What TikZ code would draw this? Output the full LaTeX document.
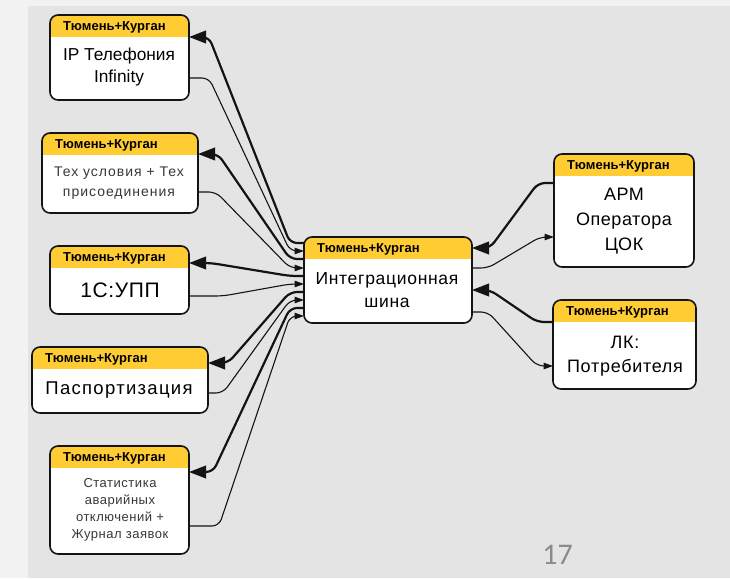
\documentclass[tikz,border=0pt]{standalone}
\usepackage{fontspec}
\setmainfont{Liberation Sans}
\newfontfamily\pagefont{Carlito}
\usetikzlibrary{arrows.meta}
\definecolor{outerbg}{RGB}{242,242,242}
\definecolor{innerbg}{RGB}{228,228,228}
\definecolor{hdryellow}{RGB}{255,204,51}
\definecolor{edgeblack}{RGB}{20,20,20}
\definecolor{pagegray}{RGB}{138,138,138}
\tikzset{
  boxbody/.style={fill=white, rounded corners=8pt, inner sep=0pt, outer sep=0pt},
  boxline/.style={draw=edgeblack, line width=1.6pt, rounded corners=8pt},
  hdrtext/.style={font=\bfseries\fontsize{13}{14}\selectfont, anchor=base west, inner sep=0pt},
  bodytext/.style={align=center, inner sep=0pt, text=black},
  graytext/.style={align=center, inner sep=0pt, text=black!78},
  conn/.style={rounded corners=7pt, draw=edgeblack},
  thk/.style={conn, line width=2.2pt, -{Triangle[length=17pt,width=12.5pt]}},
  thn/.style={conn, line width=1.1pt, -{Triangle[length=9.5pt,width=6.5pt]}},
}
\newcommand{\ybox}[5]{%
  \node[boxbody, minimum width={#4-#2}, minimum height={#5-#3}] (#1) at ({(#2+#4)/2},{(#3+#5)/2}) {};
  \begin{scope}
    \clip[rounded corners=8pt] (#1.north west) rectangle (#1.south east);
    \fill[hdryellow] (#1.north west) rectangle ([yshift=-22pt]#1.north east);
  \end{scope}
  \draw[boxline] (#1.north west) rectangle (#1.south east);
  \node[hdrtext] (#1h) at ({#2+13},{#3+15.5}) {Тюмень+Курган};
}
\begin{document}
\begin{tikzpicture}[x=1pt,y=-1pt]
\useasboundingbox (0,0) rectangle (730,578);
\fill[outerbg] (0,0) rectangle (730,578);
\fill[innerbg] (28,6) rectangle (730,578);

% boxes
\ybox{ip}{50}{15}{189}{100}
\ybox{tex}{42}{133}{198}{213}
\ybox{upp}{50}{246}{189}{314}
\ybox{pasp}{32}{347}{208}{413}
\ybox{stat}{50}{446}{189}{554}
\ybox{hub}{304}{237}{472}{323}
\ybox{arm}{554}{154}{694}{267}
\ybox{lk}{553}{300}{696}{389}

% body texts
\node[bodytext, font=\fontsize{17.3}{22}\selectfont] (ipt) at (119,67) {IP Телефония\\Infinity};
\node[graytext, font=\fontsize{14}{20}\selectfont\addfontfeature{LetterSpace=7}] (text) at (119,183) {Тех условия + Тех\\присоединения};
\node[bodytext, font=\fontsize{21}{24}\selectfont\addfontfeature{LetterSpace=3}] (uppt) at (120,290) {1С:УПП};
\node[bodytext, font=\fontsize{18.5}{22}\selectfont\addfontfeature{LetterSpace=7}] (paspt) at (119,390) {Паспортизация};
\node[graytext, font=\fontsize{13}{17}\selectfont\addfontfeature{LetterSpace=4}] (statt) at (120,510) {Статистика\\аварийных\\отключений +\\Журнал заявок};
\node[bodytext, font=\fontsize{17.5}{23}\selectfont\addfontfeature{LetterSpace=4}] (hubt) at (387,290) {Интеграционная\\шина};
\node[bodytext, font=\fontsize{18}{25}\selectfont\addfontfeature{LetterSpace=3}] (armt) at (624,221) {АРМ\\Оператора\\ЦОК};
\node[bodytext, font=\fontsize{18}{24}\selectfont\addfontfeature{LetterSpace=4}] (lkt) at (625,356) {ЛК:\\Потребителя};

% page number
\node[inner sep=0pt, text=pagegray, font=\pagefont\fontsize{30}{32}\selectfont] (pg) at (557.5,555) {17};

% left connectors
\draw[thk] ([yshift=-6pt]hub.north west) -- ++(-14,0) -- ([xshift=20pt,yshift=-22pt]ip.north east) -- ([yshift=-22pt]ip.north east);
\draw[thn] ([yshift=-63pt]ip.north east) -- ++(20,0) -- ([xshift=-14pt,yshift=-14pt]hub.north west) -- ([yshift=-14pt]hub.north west);
\draw[thk] ([yshift=-22pt]hub.north west) -- ++(-14,0) -- ([xshift=20pt,yshift=-21pt]tex.north east) -- ([yshift=-21pt]tex.north east);
\draw[thn] ([yshift=-59pt]tex.north east) -- ++(18,0) -- ([xshift=-14pt,yshift=-31pt]hub.north west) -- ([yshift=-31pt]hub.north west);
\draw[thk] ([yshift=-39pt]hub.north west) -- ++(-14,0) -- ([xshift=22pt,yshift=-17pt]upp.north east) -- ([yshift=-17pt]upp.north east);
\draw[thn] ([yshift=-50pt]upp.north east) -- ++(34,0) -- ([xshift=-14pt,yshift=-47pt]hub.north west) -- ([yshift=-47pt]hub.north west);
\draw[thk] ([yshift=-55pt]hub.north west) -- ++(-14,0) -- ([xshift=20pt,yshift=-16pt]pasp.north east) -- ([yshift=-16pt]pasp.north east);
\draw[thn] ([yshift=-46pt]pasp.north east) -- ++(15,0) -- ([xshift=-14pt,yshift=-63pt]hub.north west) -- ([yshift=-63pt]hub.north west);
\draw[thk] ([yshift=-71pt]hub.north west) -- ++(-14,0) -- ([xshift=24pt,yshift=-26pt]stat.north east) -- ([yshift=-26pt]stat.north east);
\draw[thn] ([yshift=-80pt]stat.north east) -- ++(30,0) -- ([xshift=-14pt,yshift=-79pt]hub.north west) -- ([yshift=-79pt]hub.north west);

% right connectors
\draw[thk] ([yshift=-29pt]arm.north west) -- ++(-16,0) -- ([xshift=18pt,yshift=-11pt]hub.north east) -- ([yshift=-11pt]hub.north east);
\draw[thn] ([yshift=-31pt]hub.north east) -- ++(16,0) -- ([xshift=-14pt,yshift=-83pt]arm.north west) -- ([yshift=-83pt]arm.north west);
\draw[thk] ([yshift=-22pt]lk.north west) -- ++(-16,0) -- ([xshift=18pt,yshift=-53pt]hub.north east) -- ([yshift=-53pt]hub.north east);
\draw[thn] ([yshift=-75pt]hub.north east) -- ++(16,0) -- ([xshift=-16pt,yshift=-66pt]lk.north west) -- ([yshift=-66pt]lk.north west);
\end{tikzpicture}
\end{document}
